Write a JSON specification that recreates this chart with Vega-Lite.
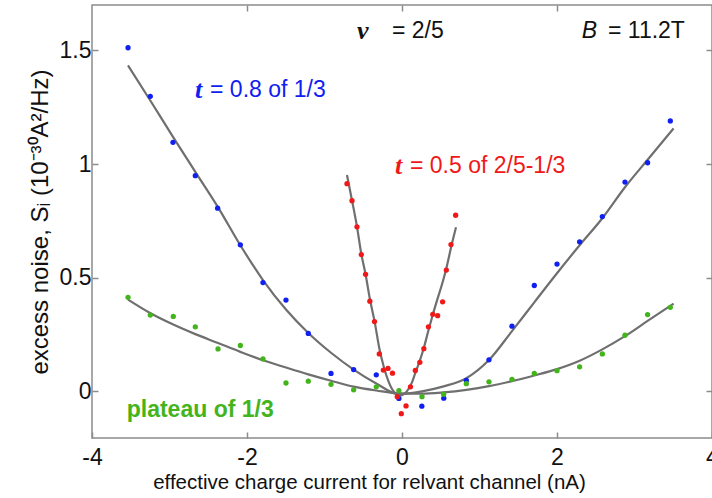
{
  "$schema": "https://vega.github.io/schema/vega-lite/v6.json",
  "width": 620,
  "height": 433,
  "autosize": {"type": "none"},
  "padding": {"left": 92, "top": 5, "right": 0, "bottom": 60},
  "background": "white",
  "config": {"view": {"stroke": "#8c8c8c", "strokeWidth": 1.5}, "font": "Liberation Sans"},
  "datasets": {
    "points": [
      {"series": "t = 0.8 of 1/3", "x": -3.535, "y": 1.512},
      {"series": "t = 0.8 of 1/3", "x": -3.248, "y": 1.298},
      {"series": "t = 0.8 of 1/3", "x": -2.955, "y": 1.096},
      {"series": "t = 0.8 of 1/3", "x": -2.667, "y": 0.949},
      {"series": "t = 0.8 of 1/3", "x": -2.379, "y": 0.806},
      {"series": "t = 0.8 of 1/3", "x": -2.086, "y": 0.645},
      {"series": "t = 0.8 of 1/3", "x": -1.794, "y": 0.479},
      {"series": "t = 0.8 of 1/3", "x": -1.497, "y": 0.402},
      {"series": "t = 0.8 of 1/3", "x": -1.209, "y": 0.255},
      {"series": "t = 0.8 of 1/3", "x": -0.916, "y": 0.079},
      {"series": "t = 0.8 of 1/3", "x": -0.624, "y": 0.096},
      {"series": "t = 0.8 of 1/3", "x": -0.332, "y": 0.073},
      {"series": "t = 0.8 of 1/3", "x": -0.04, "y": -0.031},
      {"series": "t = 0.8 of 1/3", "x": 0.256, "y": -0.065},
      {"series": "t = 0.8 of 1/3", "x": 0.539, "y": -0.03},
      {"series": "t = 0.8 of 1/3", "x": 0.83, "y": 0.048},
      {"series": "t = 0.8 of 1/3", "x": 1.122, "y": 0.139},
      {"series": "t = 0.8 of 1/3", "x": 1.419, "y": 0.287},
      {"series": "t = 0.8 of 1/3", "x": 1.707, "y": 0.466},
      {"series": "t = 0.8 of 1/3", "x": 2.0, "y": 0.56},
      {"series": "t = 0.8 of 1/3", "x": 2.292, "y": 0.658},
      {"series": "t = 0.8 of 1/3", "x": 2.585, "y": 0.769},
      {"series": "t = 0.8 of 1/3", "x": 2.877, "y": 0.921},
      {"series": "t = 0.8 of 1/3", "x": 3.169, "y": 1.006},
      {"series": "t = 0.8 of 1/3", "x": 3.462, "y": 1.19},
      {"series": "t = 0.5 of 2/5-1/3", "x": -0.71, "y": 0.914},
      {"series": "t = 0.5 of 2/5-1/3", "x": -0.645, "y": 0.839},
      {"series": "t = 0.5 of 2/5-1/3", "x": -0.581, "y": 0.724},
      {"series": "t = 0.5 of 2/5-1/3", "x": -0.525, "y": 0.602},
      {"series": "t = 0.5 of 2/5-1/3", "x": -0.47, "y": 0.515},
      {"series": "t = 0.5 of 2/5-1/3", "x": -0.415, "y": 0.397},
      {"series": "t = 0.5 of 2/5-1/3", "x": -0.355, "y": 0.307},
      {"series": "t = 0.5 of 2/5-1/3", "x": -0.293, "y": 0.165},
      {"series": "t = 0.5 of 2/5-1/3", "x": -0.241, "y": 0.094},
      {"series": "t = 0.5 of 2/5-1/3", "x": -0.181, "y": 0.101},
      {"series": "t = 0.5 of 2/5-1/3", "x": -0.123, "y": 0.08},
      {"series": "t = 0.5 of 2/5-1/3", "x": -0.061, "y": -0.023},
      {"series": "t = 0.5 of 2/5-1/3", "x": -0.009, "y": -0.098},
      {"series": "t = 0.5 of 2/5-1/3", "x": 0.052, "y": -0.064},
      {"series": "t = 0.5 of 2/5-1/3", "x": 0.109, "y": 0.02},
      {"series": "t = 0.5 of 2/5-1/3", "x": 0.172, "y": 0.092},
      {"series": "t = 0.5 of 2/5-1/3", "x": 0.23, "y": 0.128},
      {"series": "t = 0.5 of 2/5-1/3", "x": 0.282, "y": 0.188},
      {"series": "t = 0.5 of 2/5-1/3", "x": 0.341, "y": 0.284},
      {"series": "t = 0.5 of 2/5-1/3", "x": 0.397, "y": 0.339},
      {"series": "t = 0.5 of 2/5-1/3", "x": 0.46, "y": 0.333},
      {"series": "t = 0.5 of 2/5-1/3", "x": 0.524, "y": 0.394},
      {"series": "t = 0.5 of 2/5-1/3", "x": 0.572, "y": 0.534},
      {"series": "t = 0.5 of 2/5-1/3", "x": 0.632, "y": 0.646},
      {"series": "t = 0.5 of 2/5-1/3", "x": 0.692, "y": 0.775},
      {"series": "plateau of 1/3", "x": -3.535, "y": 0.414},
      {"series": "plateau of 1/3", "x": -3.248, "y": 0.336},
      {"series": "plateau of 1/3", "x": -2.951, "y": 0.33},
      {"series": "plateau of 1/3", "x": -2.667, "y": 0.284},
      {"series": "plateau of 1/3", "x": -2.374, "y": 0.187},
      {"series": "plateau of 1/3", "x": -2.086, "y": 0.202},
      {"series": "plateau of 1/3", "x": -1.794, "y": 0.143},
      {"series": "plateau of 1/3", "x": -1.497, "y": 0.037},
      {"series": "plateau of 1/3", "x": -1.209, "y": 0.045},
      {"series": "plateau of 1/3", "x": -0.916, "y": 0.031},
      {"series": "plateau of 1/3", "x": -0.624, "y": 0.007},
      {"series": "plateau of 1/3", "x": -0.332, "y": 0.02},
      {"series": "plateau of 1/3", "x": -0.04, "y": 0.003},
      {"series": "plateau of 1/3", "x": 0.258, "y": -0.023},
      {"series": "plateau of 1/3", "x": 0.537, "y": -0.012},
      {"series": "plateau of 1/3", "x": 0.83, "y": 0.034},
      {"series": "plateau of 1/3", "x": 1.122, "y": 0.042},
      {"series": "plateau of 1/3", "x": 1.419, "y": 0.053},
      {"series": "plateau of 1/3", "x": 1.707, "y": 0.079},
      {"series": "plateau of 1/3", "x": 2.0, "y": 0.091},
      {"series": "plateau of 1/3", "x": 2.292, "y": 0.108},
      {"series": "plateau of 1/3", "x": 2.585, "y": 0.165},
      {"series": "plateau of 1/3", "x": 2.877, "y": 0.247},
      {"series": "plateau of 1/3", "x": 3.169, "y": 0.338},
      {"series": "plateau of 1/3", "x": 3.462, "y": 0.37}
    ],
    "fits": [
      {"series": "fit 0.8", "x": -3.535, "y": 1.434},
      {"series": "fit 0.8", "x": -3.25, "y": 1.281},
      {"series": "fit 0.8", "x": -2.955, "y": 1.12},
      {"series": "fit 0.8", "x": -2.667, "y": 0.966},
      {"series": "fit 0.8", "x": -2.379, "y": 0.813},
      {"series": "fit 0.8", "x": -2.086, "y": 0.643},
      {"series": "fit 0.8", "x": -1.794, "y": 0.49},
      {"series": "fit 0.8", "x": -1.497, "y": 0.36},
      {"series": "fit 0.8", "x": -1.209, "y": 0.257},
      {"series": "fit 0.8", "x": -0.916, "y": 0.17},
      {"series": "fit 0.8", "x": -0.624, "y": 0.096},
      {"series": "fit 0.8", "x": -0.332, "y": 0.035},
      {"series": "fit 0.8", "x": -0.04, "y": -0.012},
      {"series": "fit 0.8", "x": 0.258, "y": 0.0},
      {"series": "fit 0.8", "x": 0.537, "y": 0.022},
      {"series": "fit 0.8", "x": 0.83, "y": 0.058},
      {"series": "fit 0.8", "x": 1.122, "y": 0.138},
      {"series": "fit 0.8", "x": 1.419, "y": 0.265},
      {"series": "fit 0.8", "x": 1.707, "y": 0.392},
      {"series": "fit 0.8", "x": 2.0, "y": 0.52},
      {"series": "fit 0.8", "x": 2.292, "y": 0.643},
      {"series": "fit 0.8", "x": 2.585, "y": 0.762},
      {"series": "fit 0.8", "x": 2.877, "y": 0.898},
      {"series": "fit 0.8", "x": 3.169, "y": 1.019},
      {"series": "fit 0.8", "x": 3.505, "y": 1.157},
      {"series": "fit 0.5", "x": -0.71, "y": 0.952},
      {"series": "fit 0.5", "x": -0.646, "y": 0.842},
      {"series": "fit 0.5", "x": -0.581, "y": 0.725},
      {"series": "fit 0.5", "x": -0.525, "y": 0.605},
      {"series": "fit 0.5", "x": -0.469, "y": 0.513},
      {"series": "fit 0.5", "x": -0.413, "y": 0.404},
      {"series": "fit 0.5", "x": -0.353, "y": 0.307},
      {"series": "fit 0.5", "x": -0.293, "y": 0.19},
      {"series": "fit 0.5", "x": -0.237, "y": 0.111},
      {"series": "fit 0.5", "x": -0.172, "y": 0.042},
      {"series": "fit 0.5", "x": -0.108, "y": 0.0},
      {"series": "fit 0.5", "x": -0.022, "y": -0.018},
      {"series": "fit 0.5", "x": 0.064, "y": 0.001},
      {"series": "fit 0.5", "x": 0.129, "y": 0.04},
      {"series": "fit 0.5", "x": 0.172, "y": 0.082},
      {"series": "fit 0.5", "x": 0.228, "y": 0.133},
      {"series": "fit 0.5", "x": 0.284, "y": 0.194},
      {"series": "fit 0.5", "x": 0.339, "y": 0.266},
      {"series": "fit 0.5", "x": 0.395, "y": 0.335},
      {"series": "fit 0.5", "x": 0.455, "y": 0.404},
      {"series": "fit 0.5", "x": 0.524, "y": 0.48},
      {"series": "fit 0.5", "x": 0.58, "y": 0.553},
      {"series": "fit 0.5", "x": 0.632, "y": 0.632},
      {"series": "fit 0.5", "x": 0.697, "y": 0.722},
      {"series": "fit plateau", "x": -3.535, "y": 0.404},
      {"series": "fit plateau", "x": -3.25, "y": 0.345},
      {"series": "fit plateau", "x": -2.951, "y": 0.294},
      {"series": "fit plateau", "x": -2.667, "y": 0.252},
      {"series": "fit plateau", "x": -2.374, "y": 0.213},
      {"series": "fit plateau", "x": -2.086, "y": 0.174},
      {"series": "fit plateau", "x": -1.794, "y": 0.137},
      {"series": "fit plateau", "x": -1.497, "y": 0.105},
      {"series": "fit plateau", "x": -1.209, "y": 0.075},
      {"series": "fit plateau", "x": -0.916, "y": 0.047},
      {"series": "fit plateau", "x": -0.624, "y": 0.021},
      {"series": "fit plateau", "x": -0.332, "y": 0.004},
      {"series": "fit plateau", "x": -0.04, "y": -0.009},
      {"series": "fit plateau", "x": 0.25, "y": -0.01},
      {"series": "fit plateau", "x": 0.537, "y": -0.004},
      {"series": "fit plateau", "x": 0.83, "y": 0.007},
      {"series": "fit plateau", "x": 1.122, "y": 0.023},
      {"series": "fit plateau", "x": 1.419, "y": 0.045},
      {"series": "fit plateau", "x": 1.707, "y": 0.07},
      {"series": "fit plateau", "x": 2.0, "y": 0.098},
      {"series": "fit plateau", "x": 2.292, "y": 0.135},
      {"series": "fit plateau", "x": 2.585, "y": 0.185},
      {"series": "fit plateau", "x": 2.877, "y": 0.243},
      {"series": "fit plateau", "x": 3.169, "y": 0.31},
      {"series": "fit plateau", "x": 3.505, "y": 0.386}
    ],
    "symbols": [
      {"series": "label", "text": "ν", "x": -0.581, "y": 1.587},
      {"series": "t = 0.8 of 1/3", "text": "t", "x": -2.671, "y": 1.327},
      {"series": "t = 0.5 of 2/5-1/3", "text": "t", "x": -0.09, "y": 0.99}
    ],
    "equations": [
      {"series": "label", "text": "= 2/5", "x": -0.129, "y": 1.587},
      {"series": "label", "text": "= 11.2T", "x": 2.658, "y": 1.587},
      {"series": "t = 0.8 of 1/3", "text": "= 0.8 of 1/3", "x": -2.477, "y": 1.327},
      {"series": "t = 0.5 of 2/5-1/3", "text": "= 0.5 of 2/5-1/3", "x": 0.103, "y": 0.99}
    ],
    "field": [
      {"series": "label", "text": "B", "x": 2.319, "y": 1.587}
    ],
    "plateau": [
      {"series": "plateau of 1/3", "text": "plateau of 1/3", "x": -3.552, "y": -0.081}
    ]
  },
  "layer": [
    {
      "data": {"name": "fits"},
      "mark": {"type": "line", "color": "#6f6f6f", "strokeWidth": 2.2, "interpolate": "monotone"},
      "encoding": {
        "x": {"field": "x", "type": "quantitative", "scale": {"domain": [-4, 4], "nice": false, "zero": false},
          "axis": {"orient": "bottom", "values": [-4, -2, 0, 2, 4], "labelExpr": "'' + datum.value", "title": "effective charge current for relvant channel (nA)",
            "titleFontSize": 20.5, "titleFontWeight": "normal", "titleColor": "#111111", "titleFont": "Liberation Sans", "titlePadding": 3, "titleX": 277,
            "labelFontSize": 23, "labelColor": "#111111", "labelFont": "Liberation Sans", "labelPadding": 14, "labelFlush": false,
            "tickSize": -6, "tickColor": "#8c8c8c", "tickWidth": 1.5, "domain": false, "grid": false}},
        "y": {"field": "y", "type": "quantitative", "scale": {"domain": [-0.205, 1.7], "nice": false, "zero": false},
          "axis": {"orient": "left", "values": [0, 0.5, 1, 1.5], "labelExpr": "'' + datum.value", "title": "excess noise, Sᵢ (10⁻³⁰A²/Hz)",
            "titleFontSize": 24, "titleFontWeight": "normal", "titleColor": "#111111", "titleFont": "Liberation Sans", "titlePadding": 7,
            "labelFontSize": 23, "labelColor": "#111111", "labelFont": "Liberation Sans", "labelPadding": 7, "labelFlush": false,
            "tickSize": -6, "tickColor": "#8c8c8c", "tickWidth": 1.5, "domain": false, "grid": false}},
        "detail": {"field": "series"}
      }
    },
    {
      "data": {"name": "points"},
      "mark": {"type": "circle", "size": 28, "opacity": 1},
      "encoding": {
        "x": {"field": "x", "type": "quantitative",
          "axis": {"orient": "top", "values": [-2, 0, 2], "labels": false, "title": null, "tickSize": -6, "tickColor": "#8c8c8c", "tickWidth": 1.5, "domain": false, "grid": false}},
        "y": {"field": "y", "type": "quantitative",
          "axis": {"orient": "right", "values": [0, 0.5, 1, 1.5], "labels": false, "title": null, "tickSize": -6, "tickColor": "#8c8c8c", "tickWidth": 1.5, "domain": false, "grid": false}},
        "color": {"field": "series", "type": "nominal", "legend": null,
          "scale": {"domain": ["t = 0.8 of 1/3", "t = 0.5 of 2/5-1/3", "plateau of 1/3", "label"], "range": ["#1020f0", "#f01818", "#44b41c", "#111111"]}}
      }
    },
    {
      "data": {"name": "symbols"},
      "mark": {"type": "text", "align": "left", "baseline": "middle", "font": "Liberation Serif", "fontSize": 26, "fontWeight": "bold", "fontStyle": "italic"},
      "encoding": {
        "x": {"field": "x", "type": "quantitative", "axis": null},
        "y": {"field": "y", "type": "quantitative", "axis": null},
        "text": {"field": "text"},
        "color": {"field": "series", "type": "nominal", "legend": null}
      }
    },
    {
      "data": {"name": "equations"},
      "mark": {"type": "text", "align": "left", "baseline": "middle", "font": "Liberation Sans", "fontSize": 23},
      "encoding": {
        "x": {"field": "x", "type": "quantitative", "axis": null},
        "y": {"field": "y", "type": "quantitative", "axis": null},
        "text": {"field": "text"},
        "color": {"field": "series", "type": "nominal", "legend": null}
      }
    },
    {
      "data": {"name": "field"},
      "mark": {"type": "text", "align": "left", "baseline": "middle", "font": "Liberation Sans", "fontSize": 23, "fontStyle": "italic"},
      "encoding": {
        "x": {"field": "x", "type": "quantitative", "axis": null},
        "y": {"field": "y", "type": "quantitative", "axis": null},
        "text": {"field": "text"},
        "color": {"field": "series", "type": "nominal", "legend": null}
      }
    },
    {
      "data": {"name": "plateau"},
      "mark": {"type": "text", "align": "left", "baseline": "middle", "font": "Liberation Sans", "fontSize": 23, "fontWeight": "bold"},
      "encoding": {
        "x": {"field": "x", "type": "quantitative", "axis": null},
        "y": {"field": "y", "type": "quantitative", "axis": null},
        "text": {"field": "text"},
        "color": {"field": "series", "type": "nominal", "legend": null}
      }
    }
  ],
  "resolve": {"axis": {"x": "independent", "y": "independent"}}
}
